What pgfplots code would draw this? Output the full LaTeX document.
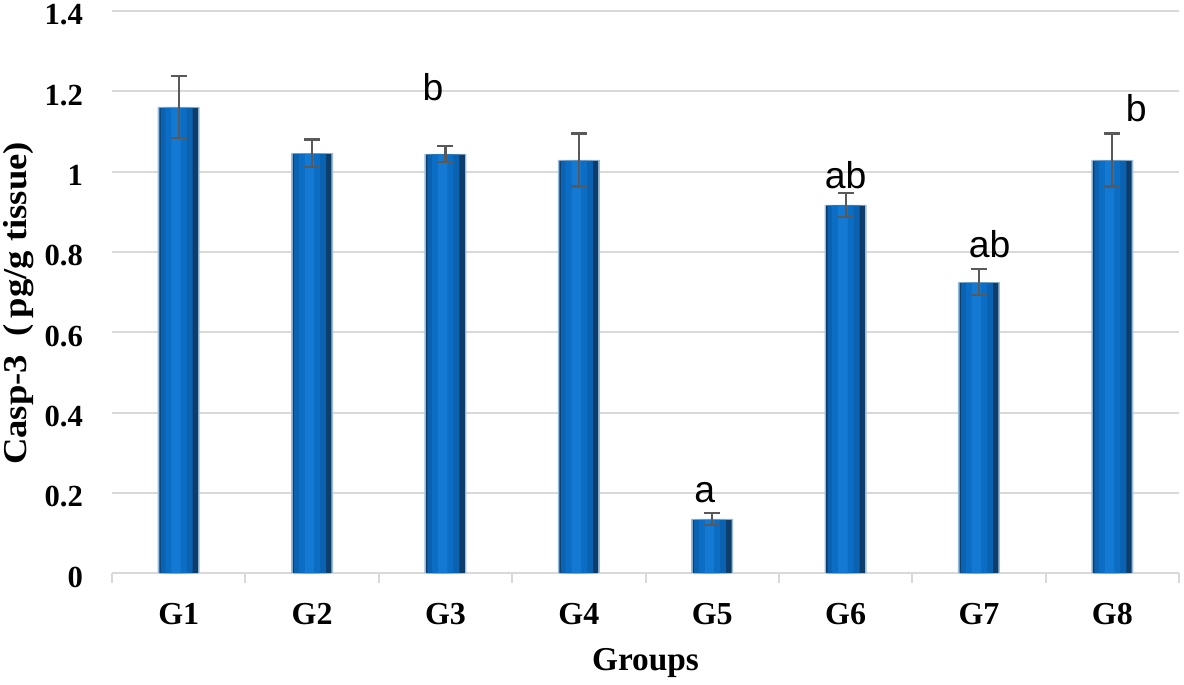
\documentclass[border=0pt]{standalone}
\usepackage{pgfplots}
\usepackage{pgfplotstable}
\pgfplotsset{compat=1.18}
\usepackage{fontspec}
\setmainfont{Liberation Serif}
\newfontfamily\arial{Liberation Sans}
\usetikzlibrary{calc}
\definecolor{barEdge}{HTML}{9BBCDB}
\definecolor{barDark}{HTML}{0D3D6B}
\definecolor{barB1}{HTML}{0B62B0}
\definecolor{barB2}{HTML}{0C6DC4}
\definecolor{barHi}{HTML}{1479D2}
\definecolor{gridc}{HTML}{D9D9D9}
\definecolor{errc}{HTML}{595959}

% group, mean, error
\pgfplotstableread{
x y e
0 1.161 0.077
1 1.046 0.034
2 1.044 0.020
3 1.029 0.066
4 0.135 0.015
5 0.917 0.030
6 0.725 0.032
7 1.029 0.066
}\casp

\begin{document}
\begin{tikzpicture}
\begin{axis}[
  scale only axis,
  width=800pt, height=421.5pt,
  xmin=-0.5, xmax=7.5,
  ymin=0, ymax=1.4,
  ytick={0,0.2,0.4,0.6,0.8,1,1.2,1.4},
  xtick={0,...,7},
  xticklabels={G1,G2,G3,G4,G5,G6,G7,G8},
  minor xtick={-0.5,0.5,...,7.5},
  major x tick style={draw=none},
  minor tick length=7.5pt,
  tick align=outside,
  x tick style={gridc, line width=1.5pt},
  y tick style={draw=none},
  axis x line*=bottom,
  axis y line*=left,
  y axis line style={draw=none},
  x axis line style={gridc, line width=1.5pt},
  ymajorgrids,
  grid style={gridc, line width=1.5pt},
  /pgf/number format/assume math mode=true,
  tick label style={font=\fontsize{23}{25}\selectfont\bfseries},
  yticklabel style={xshift=-14pt, yshift=-3pt},
  xticklabel style={font=\fontsize{24}{26}\selectfont\bfseries, yshift=-15pt},
  xlabel={Groups},
  xlabel style={font=\fontsize{25}{27}\selectfont\bfseries, at={(axis description cs:0.5,0)}, anchor=center, yshift=-67pt},
  ylabel={\scalebox{1.1}[1]{Casp-3\ \ (\,pg/g tissue)}},
  ylabel style={font=\fontsize{25}{27}\selectfont\bfseries, at={(axis description cs:-0.0875,0.48)}, anchor=center},
  ybar,
]
\addplot[fill=barEdge, draw=none, bar width=31.5pt, bar shift=0pt] table[x=x,y=y] {\casp};
\addplot[fill=barDark, draw=none, bar width=29pt, bar shift=0pt] table[x=x,y expr=\thisrow{y}-0.002] {\casp};
\addplot[fill=barB1, draw=none, bar width=24pt, bar shift=-1.5pt] table[x=x,y expr=\thisrow{y}-0.002] {\casp};
\addplot[fill=barB2, draw=none, bar width=16pt, bar shift=-2pt] table[x=x,y expr=\thisrow{y}-0.002] {\casp};
\addplot[fill=barHi, draw=none, bar width=7pt, bar shift=-2pt] table[x=x,y expr=\thisrow{y}-0.002] {\casp};
\addplot[draw=none, fill=none, bar width=0pt, bar shift=0pt,
  error bars/.cd, y dir=both, y explicit,
  error bar style={errc, line width=1.6pt},
  error mark options={errc, rotate=90, mark size=6pt, line width=1.6pt},
] table[x=x,y=y,y error=e] {\casp};
\begin{scope}[every node/.style={font=\arial\fontsize{28}{30}\selectfont, anchor=base, inner sep=0pt}]
\node at (axis cs:1.906,1.176) {b};
\node at (axis cs:3.945,0.177) {a};
\node at (axis cs:5.0,0.959) {ab};
\node at (axis cs:6.08,0.787) {ab};
\node at (axis cs:7.18,1.124) {b};
\end{scope}
\coordinate (bl) at (rel axis cs:0,0);
\coordinate (tr) at (rel axis cs:1,1);
\end{axis}
\pgfresetboundingbox
\path ($(bl)+(-84pt,-83.25pt)$) rectangle ($(tr)+(3.75pt,8.25pt)$);
\end{tikzpicture}
\end{document}
